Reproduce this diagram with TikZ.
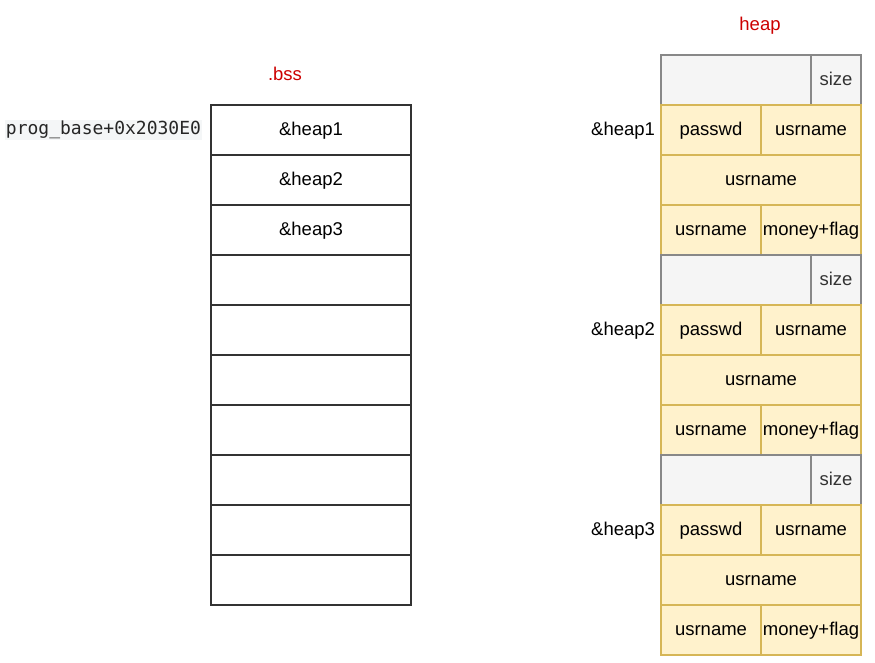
\documentclass[tikz,border=0pt]{standalone}
\usepackage{fontspec}
\setmainfont{Liberation Sans}
\setmonofont{DejaVu Sans Mono}
\definecolor{ylfill}{HTML}{FFF2CC}
\definecolor{ylline}{HTML}{D6B656}
\definecolor{gyfill}{HTML}{F5F5F5}
\definecolor{gyline}{HTML}{888888}
\definecolor{gytext}{HTML}{333333}
\definecolor{redtxt}{HTML}{CC0000}
\definecolor{monobg}{HTML}{F4F6F7}
\begin{document}
\begin{tikzpicture}[x=1pt,y=-1pt,
  every node/.style={font=\fontsize{18.5}{20}\selectfont, inner sep=0pt, outer sep=0pt, text height=10.4pt, text depth=0pt},
  cellbase/.style={anchor=north west, minimum height=50pt, line width=1.5pt},
  bsscell/.style={cellbase, draw=black!80, fill=white, minimum width=200pt},
  yfull/.style={cellbase, draw=ylline, fill=ylfill, minimum width=200pt},
  yhalf/.style={cellbase, draw=ylline, fill=ylfill, minimum width=100pt},
  gwide/.style={cellbase, draw=gyline, fill=gyfill, minimum width=150pt},
  gsize/.style={cellbase, draw=gyline, fill=gyfill, minimum width=50pt, text=gytext},
  title/.style={text=redtxt},
  lbl/.style={anchor=east}
]
\useasboundingbox (0,0) rectangle (875,662);
% titles
\node[title] (bsstitle) at (285,74.8) {.bss};
\node[title] (heaptitle) at (760,24.8) {heap};
% bss column
\foreach \i in {0,...,9} {
  \node[bsscell] (b\i) at (211,{105+50*\i}) {};
}
\node (bt1) at (b0.center) {\&heap1};
\node (bt2) at (b1.center) {\&heap2};
\node (bt3) at (b2.center) {\&heap3};
\node[fill=monobg, inner xsep=1pt, inner ysep=0pt, text height=14pt, text depth=6pt, font=\ttfamily\fontsize{18}{20}\selectfont, text=black!85, anchor=east] (pb) at (202,130) {prog\_base+0x2030E0};
% heap column
\foreach \n/\k in {1/0,2/4,3/8} {
  \node[gwide] (g\n) at (661,{55+50*\k}) {};
  \node[gsize] (s\n) at (811,{55+50*\k}) {size};
  \node[yhalf] (pw\n) at (661,{105+50*\k}) {passwd};
  \node[yhalf] (ua\n) at (761,{105+50*\k}) {usrname};
  \node[yfull] (ub\n) at (661,{155+50*\k}) {usrname};
  \node[yhalf] (uc\n) at (661,{205+50*\k}) {usrname};
  \node[yhalf] (mf\n) at (761,{205+50*\k}) {money+flag};
  \node[lbl] (hl\n) at ([xshift=-6pt]pw\n.west) {\&heap\n};
}
\end{tikzpicture}
\end{document}
